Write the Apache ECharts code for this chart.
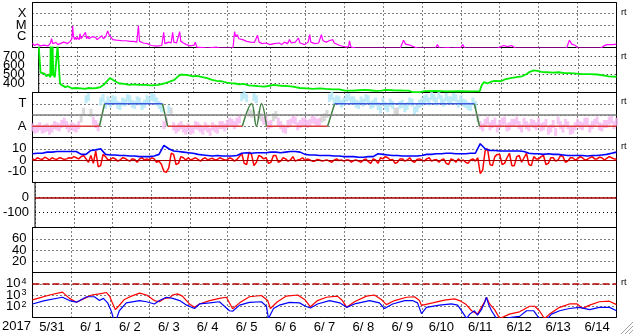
<!DOCTYPE html>
<html><head><meta charset="utf-8">
<script src="https://cdn.jsdelivr.net/npm/echarts@6.0.0/dist/echarts.min.js"></script>
<style>html,body{margin:0;padding:0;background:#fff}#c{width:633px;height:334px}</style>
</head><body><div id="c"></div>
<script>
// ---- data (x = days since 2017-05-31 00:00 UT) ----
const dayLabels = ['5/31','6/ 1','6/ 2','6/ 3','6/ 4','6/ 5','6/ 6','6/ 7','6/ 8','6/ 9','6/10','6/11','6/12','6/13','6/14'];
const yearLabel = '2017';

// X-ray flux [day, W/m2]
const xray = [
[0.00,2.3e-7],[0.05,1.5e-7],[0.12,2.0e-7],[0.2,1.4e-7],[0.3,1.6e-7],[0.4,1.4e-7],[0.46,2.5e-7],[0.49,6e-7],[0.52,2.2e-7],[0.6,2.8e-7],[0.65,1.8e-7],[0.7,2.2e-7],[0.8,3.0e-7],[0.85,2e-7],[0.9,2.3e-7],[0.97,3.5e-7],
[1.01,6e-7],[1.03,8e-6],[1.05,1.2e-6],[1.08,5e-7],[1.1,8e-7],[1.13,5e-7],[1.15,8e-7],[1.2,5e-7],[1.22,1.6e-6],[1.25,6e-7],[1.28,9e-7],[1.3,4.5e-7],[1.36,2.2e-6],[1.39,6e-7],[1.42,1e-6],[1.45,6e-7],[1.5,5e-7],[1.53,9e-7],[1.56,6e-7],[1.62,8e-7],[1.66,5e-7],[1.7,7e-7],[1.78,1.1e-6],[1.82,6e-7],[1.88,9e-7],[1.93,3.0e-6],[1.97,1.3e-6],
[2.02,8e-7],[2.06,5e-7],[2.1,7e-7],[2.15,4.5e-7],[2.2,6e-7],[2.3,4e-7],[2.35,6e-7],[2.4,4e-7],[2.5,3.5e-7],[2.55,5e-7],[2.6,3.5e-7],[2.68,3e-7],[2.72,9e-6],[2.75,3.5e-7],[2.85,2.5e-7],[2.95,2.2e-7],
[3.05,1.5e-7],[3.2,1.3e-7],[3.32,1.5e-7],[3.37,2.2e-6],[3.4,2.2e-7],[3.5,3e-7],[3.56,2.5e-7],[3.6,2.2e-6],[3.63,3e-7],[3.7,2.5e-7],[3.78,2.6e-6],[3.81,3.5e-7],[3.88,2.5e-7],[3.95,1.8e-7],
[4.05,1.4e-7],[4.15,1.6e-7],[4.18,3e-7],[4.22,1.1e-7],[4.5,9e-8],[4.72,1.1e-7],[4.75,1.6e-7],[4.8,9e-8],[5.15,9e-8],
[5.19,2.6e-6],[5.22,9e-7],[5.26,1.4e-6],[5.3,6e-7],[5.35,8e-7],[5.4,5e-7],[5.45,6e-7],[5.5,3.5e-7],[5.6,3e-7],[5.7,2.8e-7],[5.78,1.2e-6],[5.82,3e-7],[5.9,2.2e-7],
[6.0,2.5e-7],[6.1,1.8e-7],[6.2,2.2e-7],[6.34,2.5e-7],[6.4,1.8e-7],[6.47,3e-7],[6.55,2.2e-7],[6.6,5e-7],[6.65,2.5e-7],[6.75,3e-7],[6.83,7e-7],[6.87,2.5e-7],[6.99,1.8e-7],
[7.08,3e-7],[7.12,1.4e-6],[7.15,3e-7],[7.25,2.2e-7],[7.35,2.5e-7],[7.42,1.4e-6],[7.46,4e-7],[7.55,3e-7],[7.62,4e-7],[7.71,5e-7],[7.75,2.5e-7],[7.89,1.5e-7],
[8.05,1.1e-7],[8.12,1.2e-7],[8.14,4e-7],[8.18,1.1e-7],[8.3,9e-8],[9.45,9e-8],[9.53,4.5e-7],[9.58,2e-7],[9.7,1.6e-7],[9.81,1.1e-7],[9.9,9e-8],
[10.35,9e-8],[10.4,1.8e-7],[10.45,9e-8],[10.68,1e-7],[10.71,1.5e-7],[10.75,9e-8],[11.0,1e-7],[11.05,1.8e-7],[11.1,9e-8],
[11.95,9e-8],[12.0,1.3e-7],[12.1,1.5e-7],[12.2,1.2e-7],[12.3,1.5e-7],[12.4,9e-8],[13.72,9e-8],[13.79,4.5e-7],[13.85,2e-7],[13.95,1.5e-7],[14.0,9e-8],
[14.6,9e-8],[14.68,1.4e-7],[14.75,1.8e-7],[14.8,2.3e-7],[14.9,1.8e-7],[15.0,2e-7]
];

// Solar wind speed [day, km/s]
const speed = [
[0,820],[0.03,800],[0.05,520],[0.1,500],[0.15,510],[0.2,480],[0.26,500],[0.3,470],[0.31,820],[0.33,480],[0.36,820],[0.38,500],[0.42,470],[0.47,480],[0.49,820],[0.53,820],[0.55,420],[0.57,390],[0.62,380],[0.69,360],[0.75,370],[0.8,355],[0.87,345],[0.95,350],
[1.0,345],[1.1,345],[1.2,340],[1.3,350],[1.4,345],[1.5,350],[1.6,360],[1.7,390],[1.78,430],[1.85,460],[1.9,450],[1.98,425],
[2.1,400],[2.23,395],[2.35,385],[2.49,390],[2.6,385],[2.75,385],[2.93,380],
[3.1,385],[3.26,400],[3.4,420],[3.52,440],[3.62,480],[3.7,500],[3.8,495],[3.9,490],
[4.0,480],[4.11,485],[4.25,470],[4.37,460],[4.5,440],[4.62,430],[4.75,425],[4.88,410],[4.98,405],
[5.1,400],[5.2,390],[5.32,395],[5.45,380],[5.6,375],[5.7,370],[5.85,365],
[6.0,375],[6.1,385],[6.2,380],[6.3,375],[6.47,370],[6.6,365],[6.78,350],[6.95,345],
[7.12,340],[7.3,345],[7.45,340],[7.63,335],[7.8,335],[7.95,320],
[8.14,320],[8.3,325],[8.48,330],[8.6,325],[8.75,318],[8.9,320],
[9.0,330],[9.2,325],[9.43,322],[9.6,320],[9.7,305],[9.9,305],
[10.02,315],[10.3,318],[10.6,312],[10.9,315],
[11.2,312],[11.45,315],[11.5,380],[11.56,415],[11.65,400],[11.74,420],[11.85,430],
[12.0,425],[12.1,445],[12.25,460],[12.4,470],[12.55,480],[12.65,500],[12.75,530],[12.85,545],[12.95,540],
[13.05,530],[13.2,525],[13.35,520],[13.5,525],[13.65,515],[13.8,515],[13.97,510],
[14.1,505],[14.3,505],[14.5,500],[14.65,490],[14.8,480],[15.0,475]
];

// IMF phi, two interleaved 3-hourly sets; sector: +1 toward (T), -1 away (A)
const phiStep = 0.125;
const phiVals = [
-1.1,-1.2,-1.3,-1.1,-1.2,-1.0,-0.8,-0.9,
-1.0,-1.2,-0.3,1.4,0.2,-0.8,1.2,0.9,
1.0,1.3,0.8,1.1,1.4,0.9,1.2,1.0,
1.3,1.5,0.9,-0.9,0.5,-1.0,-1.1,-1.2,
-1.1,-1.3,-1.0,-1.4,-1.2,-1.0,-1.3,-0.9,
-0.8,-0.7,-0.6,1.6,1.5,0.1,1.4,-0.2,
-0.4,-0.8,0.0,-0.9,-1.3,-0.7,-0.5,-0.8,
-0.6,-0.7,-0.5,-0.6,-0.2,1.5,1.2,1.3,
1.2,1.6,1.3,0.9,1.1,1.4,1.0,0.8,
1.2,0.6,0.9,0.3,1.0,0.8,1.1,0.6,
1.1,1.5,1.7,1.2,1.4,1.6,1.3,1.5,
1.4,1.0,0.7,0.9,-0.9,-0.7,-1.0,-0.6,
-0.8,-0.5,-1.0,-0.7,-0.9,-0.6,-1.1,-0.8,
-0.6,-1.0,-1.4,-0.8,-0.5,-1.2,-0.9,-1.3,
-0.7,-1.0,-0.6,-0.9,-0.5,-1.1,-0.8,-0.4,
-0.6];
const phiVals2 = [
-1.3,-1.0,-1.2,-1.4,-0.9,-1.1,-0.6,-1.2,
-1.1,-0.9,0.3,1.6,-0.5,-1.1,1.5,1.3,
1.4,0.9,1.2,1.5,1.0,1.3,0.8,1.4,
1.6,1.2,0.6,-0.6,0.3,-1.3,-0.9,-1.4,
-1.4,-0.9,-1.2,-1.0,-1.5,-1.2,-0.9,-1.1,
-0.6,-0.9,-0.4,1.8,0.2,1.6,0.0,-0.5,
-0.9,-0.2,-0.6,-1.2,-0.8,-0.4,-1.0,-0.6,
-0.8,-0.4,-0.7,-0.3,0.1,1.7,1.4,1.0,
1.5,1.3,1.0,1.3,1.5,0.9,1.2,0.5,
0.8,1.1,0.3,0.9,0.6,1.2,0.4,1.0,
1.4,1.2,1.5,1.8,1.1,1.3,1.6,1.0,
1.1,0.8,1.2,-0.3,-1.1,-0.5,-0.8,-1.2,
-0.6,-1.1,-0.7,-0.5,-1.2,-0.9,-0.7,-1.0,
-1.1,-0.7,-1.2,-1.5,-0.9,-0.7,-1.4,-1.0,
-0.9,-0.6,-1.2,-0.7,-1.0,-0.8,-0.5,-0.9];
const sectorAwaySeg = [[0,1.72],[3.47,5.39],[6.01,7.58],[11.48,15]];
const sectorTowardSeg = [[1.85,3.34],[7.76,11.35]];
const sectorTrans = [[[1.72,-1],[1.85,1]],[[3.34,1],[3.47,-1]],[[5.39,-1],[5.63,1],[5.75,-1],[5.88,1],[6.01,-1]],[[7.58,-1],[7.76,1]],[[11.35,1],[11.48,-1]]];

// IMF Bt (3-hourly) and Bz (1.5-hourly), nT
const btStep = 0.125;
const btVals = [
5.5,6,6,7,7,7.5,7.5,7.5,
7.5,7.5,5,5,8.5,9,10,5,
4.5,4.5,4,4,3.5,3.5,3,3,
3,3.5,5,13,10,8,7.5,7,
6.5,6,5,4.5,4,3.5,4,3.5,
3.5,3.5,4,6,6.5,6,6.5,6.5,
6.5,7,7,6.5,7,7.5,7.5,7,
5,4.5,4.5,4,4,4,3.5,3.5,
3,3,3,2.5,2.5,3,3,5.5,
5,4.5,4,4,3.5,3.5,3.5,3.5,
4,5,5,5.5,5.5,6,6,5.5,
5.5,5.5,6,6,14.5,10,8.5,8.5,
8,8,8,8,8,7.5,6,5.5,
5.5,5,5.5,5,5,4.5,4,4,
4,4,3.5,4,4,4.5,5,6,
7];
const bzStep = 0.0625;
const bzVals = [
1,0,2,1,0.5,2.5,1.5,0,2,1,0.5,2,1.5,0.5,1,2,
1.5,3,2,1,3,4,1,-2,4,-3,8,-6,-5,5,3,0,
0.5,2,1,-1,0,2,1.5,0,-1,1,0.5,-2,1,2,0,1,
0,2,1,-2,-1,-4,-10,-11,-7,6,5,-4,-3,3,2,0,
2,0,1,2,0.5,-1,1,2,0,1,1.5,0,0.5,2,1,0,
0,2,1,-1,0.5,3,6,-3,-4,7,5,-5,-2,4,3,1,
2,-3,-2,4,4,-2,-1,2,1,-1,0,3,-1,0,0.5,2,
-0.5,1,0,-1,-1,0.5,0,-1,-0.5,0,-1,-2,0,1,-0.5,0,
-1,0,0,-2,-0.5,0,-1,-2,0,1,-1.5,-3,1,0,-3,2,
1,3,2,0,0.5,-3,-2,1,1,-1,0,2,-1,-2,0.5,1,
0,-1,1,2,-1,0,0.5,-2,0,1,-3,-4,1,0,-2,1,
-1,0,-2,-3,0,1,-1,2,-12,-9,8,10,-4,-5,3,5,
5,-4,-3,2,6,-5,-5,3,4,-2,2,6,-4,-5,3,1,
1,3,4,-4,-3,2,2,-1,0,4,3,-2,-1,2,2,0,
1,3,2,0,0.5,2,3,1,1,2.5,2,0,1.5,3,2,1,
1];

// >2 MeV electron flux [day, value]
const elecRed = [
[0,370],[0.18,560],[0.44,1000],[0.77,1800],[0.95,500],[1.13,230],[1.34,500],[1.52,1000],[1.72,1260],[1.9,1660],[1.98,800],
[2.05,200],[2.13,50],[2.21,100],[2.36,400],[2.54,800],[2.75,1450],[2.93,1000],[3.13,320],[3.26,250],[3.39,500],[3.52,560],[3.6,1000],[3.72,1260],[3.85,800],
[4.03,160],[4.16,80],[4.29,160],[4.55,320],[4.8,500],[4.98,630],[5.14,60],[5.32,200],[5.57,700],[5.88,900],[6.04,320],[6.11,63],[6.29,250],[6.52,800],[6.81,1000],[6.99,400],
[7.14,90],[7.32,320],[7.55,630],[7.83,800],[7.96,320],[8.07,80],[8.27,250],[8.58,800],[8.78,1000],[8.96,400],[9.09,140],[9.3,320],[9.61,630],[9.81,700],[9.94,320],[9.99,120],
[10.28,200],[10.58,350],[10.84,450],[10.97,320],[11.12,160],[11.28,40],[11.43,20],[11.53,80],[11.61,250],[11.66,630],[11.74,160],[11.87,50],[12.0,8],
[12.25,20],[12.51,32],[12.77,100],[12.9,100],[13.02,40],[13.15,8],[13.28,20],[13.54,80],[13.79,160],[13.99,160],[14.13,63],[14.31,125],[14.56,250],[14.82,280],[15,140]
];
const elecBlue = [
[0,160],[0.31,320],[0.77,630],[0.95,320],[1.13,230],[1.39,700],[1.59,700],[1.72,320],[1.82,500],[1.93,200],[2.03,32],[2.08,8],[2.16,8],[2.23,40],[2.41,200],[2.75,320],[2.93,250],
[3.13,160],[3.26,320],[3.44,630],[3.6,500],[3.78,320],[3.96,125],[4.16,63],[4.29,160],[4.55,200],[4.8,250],[5.06,40],[5.14,36],[5.32,125],[5.57,220],[5.88,250],[6.01,100],[6.06,8],[6.11,8],
[6.19,63],[6.34,125],[6.6,220],[6.86,200],[7.01,100],[7.14,70],[7.32,160],[7.63,320],[7.89,200],[8.07,80],[8.27,160],[8.66,320],[8.91,200],[9.04,63],[9.25,160],[9.56,320],[9.76,320],[9.89,200],[9.99,22],
[10.12,80],[10.45,125],[10.76,160],[10.92,125],[11.04,32],[11.15,8],[11.23,20],[11.35,40],[11.43,16],[11.53,50],[11.61,200],[11.66,630],[11.71,160],[11.79,40],[11.92,8],[12.18,8],
[12.25,10],[12.51,12.6],[12.69,40],[12.87,40],[13.02,8],[13.23,8],[13.33,20],[13.54,40],[13.79,63],[14.05,80],[14.31,50],[14.56,80],[14.82,80],[15,40]
];
const elecAlert = 1e4;

// ---- chart ----
const FONT = "'Liberation Sans Narrow','Liberation Sans',Arial,sans-serif";
const FS = 13;
const dotted = {color:'#000', width:1, type:[1,3]};
const NP = 7;
const grids = [], xAxes = [], yAxes = [];
for (let i = 0; i < NP; i++) {
  grids.push({left:32.5, width:584, top:2.5 + 45 * i, height:45, show:true, borderColor:'#000', borderWidth:1, backgroundColor:'transparent'});
  xAxes.push({type:'value', gridIndex:i, min:0, max:15, interval:1, axisLine:{show:false}, axisTick:{show:false}, axisLabel:{show:false}, splitLine:{show:true, lineStyle:dotted}});
}
xAxes.push({type:'category', gridIndex:6, data:dayLabels, position:'bottom', boundaryGap:true,
  axisLine:{show:false}, axisTick:{show:false}, splitLine:{show:false},
  axisLabel:{color:'#000', fontFamily:FONT, fontSize:FS, margin:3, interval:0}});

function yAx(i, o, fmt, margin) {
  return Object.assign({gridIndex:i, axisLine:{show:false}, axisTick:{show:false},
    splitLine:{show:true, lineStyle:dotted},
    axisLabel:{color:'#000', fontFamily:FONT, fontSize:FS, margin:margin || 6, formatter:fmt, showMinLabel:true, showMaxLabel:true}}, o);
}
yAxes.push(yAx(0, {type:'log', logBase:10, min:1e-7, max:1e-3}, v => {
  const e = Math.round(Math.log10(v)); return e === -6 ? 'C' : e === -5 ? 'M' : e === -4 ? 'X' : '';
}));
yAxes.push(yAx(1, {type:'value', min:300, max:800, interval:100}, v => (v >= 400 && v <= 700) ? String(v) : '', 14));
yAxes.push(yAx(2, {type:'value', min:-2, max:2, interval:1}, v => v === 1 ? 'T' : v === -1 ? 'A' : ''));
yAxes.push(yAx(3, {type:'value', min:-20, max:20, interval:10}, v => Math.abs(v) <= 10 ? String(v) : ''));
yAxes.push(yAx(4, {type:'value', min:-200, max:100, interval:100}, v => (v === 0 || v === -100) ? String(v) : ''));
yAxes.push(yAx(5, {type:'value', min:0, max:80, interval:20}, v => (v > 0 && v < 80) ? String(v) : ''));
const eAx = yAx(6, {type:'log', logBase:10, min:10, max:1e5}, v => {
  const e = Math.round(Math.log10(v)); return (e >= 2 && e <= 4) ? '{b|10}{s|' + e + '}' : '';
});
eAx.axisLabel.rich = {b:{fontSize:FS, fontFamily:FONT, color:'#000'}, s:{fontSize:9, fontFamily:FONT, color:'#000', verticalAlign:'top', padding:[0,0,0,1]}};
yAxes.push(eAx);

const stepped = (vals, step, off) => vals.map((v, i) => [(off || 0) + i * step, v]);
function segData(segs, level) { const d = []; segs.forEach(([a, b]) => { d.push([a, level], [b, level], [b, null]); }); return d; }
const transData = []; sectorTrans.forEach(s => { s.forEach(p => transData.push(p)); transData.push([s[s.length - 1][0], null]); });
const phiColor = p => p.value[1] > 0.35 ? '#b0e6f6' : (p.value[1] < -0.35 ? '#f6b8f0' : '#cfcfcf');

const base = {type:'line', symbol:'none', showSymbol:false, animation:false, connectNulls:false};
const series = [
  Object.assign({}, base, {xAxisIndex:0, yAxisIndex:0, data:xray, lineStyle:{color:'#ff00ff', width:1.2}}),
  Object.assign({}, base, {xAxisIndex:1, yAxisIndex:1, data:speed, lineStyle:{color:'#00ee00', width:1.8}}),
  {type:'scatter', xAxisIndex:2, yAxisIndex:2, data:stepped(phiVals, phiStep), symbol:'rect', symbolSize:[3,8], animation:false, itemStyle:{color:phiColor}},
  {type:'scatter', xAxisIndex:2, yAxisIndex:2, data:stepped(phiVals2, phiStep, phiStep / 2), symbol:'rect', symbolSize:[3,8], animation:false, itemStyle:{color:phiColor}},
  Object.assign({}, base, {xAxisIndex:2, yAxisIndex:2, data:[], markLine:{silent:true, symbol:'none', label:{show:false}, animation:false,
    lineStyle:{color:'#808080', width:1.5, type:'solid'}, data:[{yAxis:0}]}}),
  Object.assign({}, base, {xAxisIndex:2, yAxisIndex:2, data:segData(sectorAwaySeg, -1), lineStyle:{color:'#e03a3a', width:1.5}}),
  Object.assign({}, base, {xAxisIndex:2, yAxisIndex:2, data:segData(sectorTowardSeg, 1), lineStyle:{color:'#3c5ae0', width:1.5}}),
  Object.assign({}, base, {xAxisIndex:2, yAxisIndex:2, data:transData, smooth:0.4, lineStyle:{color:'#3f7f3f', width:1.5}}),
  Object.assign({}, base, {xAxisIndex:3, yAxisIndex:3, data:[], markLine:{silent:true, symbol:'none', label:{show:false}, animation:false,
    lineStyle:{color:'#a00000', width:1, type:'solid'}, data:[{yAxis:0}]}}),
  Object.assign({}, base, {xAxisIndex:3, yAxisIndex:3, data:stepped(bzVals, bzStep), lineStyle:{color:'#ff0000', width:1.5}}),
  Object.assign({}, base, {xAxisIndex:3, yAxisIndex:3, data:stepped(btVals, btStep), lineStyle:{color:'#0000ff', width:1.6}}),
  Object.assign({}, base, {xAxisIndex:4, yAxisIndex:4, data:[], markLine:{silent:true, symbol:'none', label:{show:false}, animation:false,
    lineStyle:{color:'#a00000', width:1.5, type:'solid'}, data:[{yAxis:0}]}}),
  Object.assign({}, base, {xAxisIndex:6, yAxisIndex:6, data:elecRed, lineStyle:{color:'#ff0000', width:1.2},
    markLine:{silent:true, symbol:'none', label:{show:false}, animation:false, lineStyle:{color:'#b00000', width:1.5, type:[7,3]}, data:[{yAxis:elecAlert}]}}),
  Object.assign({}, base, {xAxisIndex:6, yAxisIndex:6, data:elecBlue, lineStyle:{color:'#0000ff', width:1.2}})
];

const rtY = [8, 52, 97, 142, 278];
const graphic = [{type:'text', x:2, y:320, style:{text:yearLabel, fontSize:FS, fontFamily:FONT, fill:'#000'}}];
rtY.forEach(y => graphic.push({type:'text', x:621, y:y, style:{text:'rt', fontSize:9, fontFamily:FONT, fill:'#000'}}));
[[621,334,633,322],[625,334,633,326],[629,334,633,330]].forEach(([a,b,c,d]) => {
  graphic.push({type:'line', shape:{x1:a, y1:b, x2:c, y2:d}, style:{stroke:'#a0a0a0', lineWidth:1}});
  graphic.push({type:'line', shape:{x1:a+1, y1:b, x2:c, y2:d+1}, style:{stroke:'#ffffff', lineWidth:1}});
});

const chart = echarts.init(document.getElementById('c'), null, {renderer:'canvas'});
chart.setOption({animation:false, backgroundColor:'#fff', grid:grids, xAxis:xAxes, yAxis:yAxes, series:series, graphic:graphic});
</script></body></html>
